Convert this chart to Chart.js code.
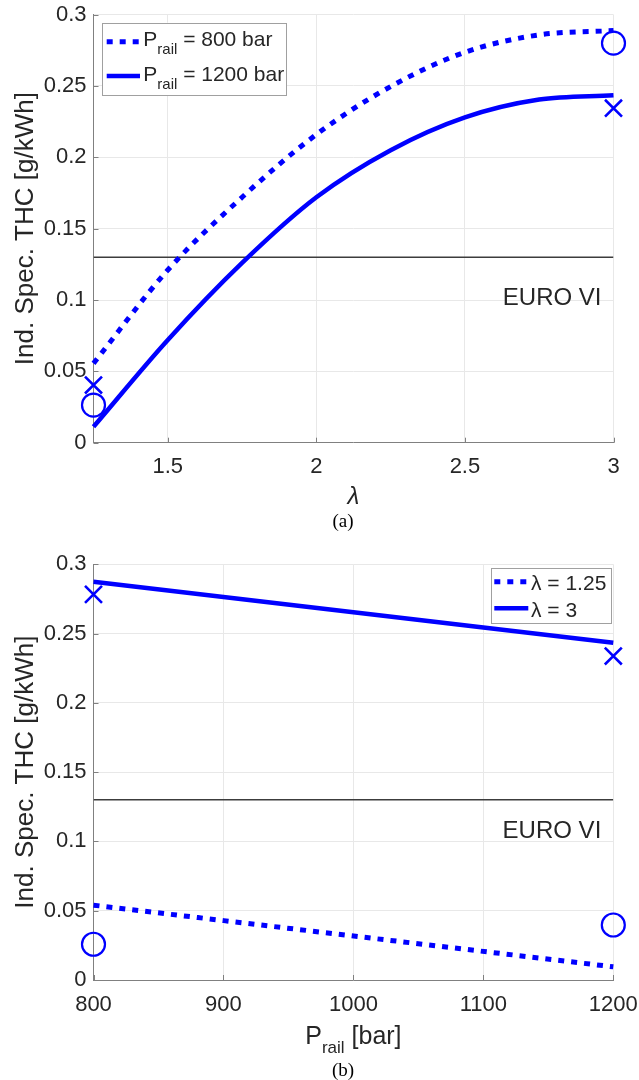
<!DOCTYPE html>
<html><head><meta charset="utf-8">
<script src="https://cdn.jsdelivr.net/npm/chart.js@4.4.1/dist/chart.umd.min.js"></script>
<style>
html,body{margin:0;padding:0;background:#fff;}
#wrap{position:relative;width:639px;height:1080px;overflow:hidden;background:#fff;}
.cv{position:absolute;left:0;width:639px;}
.cap{position:absolute;font-family:"Liberation Serif","Times New Roman",serif;font-size:19px;line-height:22px;color:#000;transform:translateX(-50%);white-space:nowrap;}
</style></head><body>
<div id="wrap">
  <div class="cv" style="top:0;height:530px"><canvas id="c1"></canvas></div>
  <div class="cv" style="top:530px;height:550px"><canvas id="c2"></canvas></div>
  <div class="cap" style="left:343px;top:510px">(a)</div>
  <div class="cap" style="left:343px;top:1059px">(b)</div>
</div>
<script>
// ---------- data ----------
// (a) THC vs lambda
const lambdaVals = [1.25, 1.5, 1.75, 2, 2.25, 2.5, 2.75, 3];
const thc800     = [0.0556, 0.121, 0.172, 0.216, 0.2496, 0.2736, 0.2858, 0.2888];
const thc1200    = [0.0112, 0.072, 0.126, 0.172, 0.205, 0.228, 0.2405, 0.2435];
const expLambda  = [1.25, 3];
const expCircleA = [0.0264, 0.280];
const expCrossA  = [0.0404, 0.2344];
// (b) THC vs rail pressure
const pRailVals  = [800, 1200];
const thcLam125  = [0.054, 0.0095];
const thcLam3    = [0.2874, 0.2434];
const expCircleB = [0.0258, 0.0397];
const expCrossB  = [0.2783, 0.2338];
// limit
const euroVI = 0.13;
const euroLabel = 'EURO VI';
const euroLabelYA = 0.0966;
const euroLabelYB = 0.1028;
// ticks
const yTickVals   = [0, 0.05, 0.1, 0.15, 0.2, 0.25, 0.3];
const yTickLabels = ['0', '0.05', '0.1', '0.15', '0.2', '0.25', '0.3'];
const lamTickVals   = [1.5, 2, 2.5, 3];
const lamTickLabels = ['1.5', '2', '2.5', '3'];
const pTickVals   = [800, 900, 1000, 1100, 1200];
const pTickLabels = ['800', '900', '1000', '1100', '1200'];
// text
const yTitle = 'Ind. Spec. THC [g/kWh]';
const xTitleA = 'λ';
const xTitleBParts = [['P', 0], ['rail', 1], [' [bar]', 0]];
const legendAParts = [
  [['P', 0], ['rail', 1], [' = 800 bar', 0]],
  [['P', 0], ['rail', 1], [' = 1200 bar', 0]]
];
const legendBParts = [
  [['λ = 1.25', 0]],
  [['λ = 3', 0]]
];

// ---------- style ----------
const FONT = '"Liberation Sans", Arial, Helvetica, sans-serif';
const TXT = '#262626';
const AXIS = '#808080';
const GRID = '#e8e8e8';
const BLUE = '#0000ff';
const DOT = [6, 7];

function xy(xs, ys) { return xs.map((x, i) => ({x: x, y: ys[i]})); }

function drawRich(ctx, parts, x, base, size, subSize, subShift, align) {
  let total = 0;
  const w = parts.map(p => { ctx.font = (p[1] ? subSize : size) + 'px ' + FONT; const m = ctx.measureText(p[0]).width; total += m; return m; });
  let cx = align === 'center' ? x - total / 2 : x;
  ctx.textAlign = 'left'; ctx.textBaseline = 'alphabetic'; ctx.fillStyle = TXT;
  parts.forEach((p, i) => {
    ctx.font = (p[1] ? subSize : size) + 'px ' + FONT;
    ctx.fillText(p[0], cx, base + (p[1] ? subShift : 0));
    cx += w[i];
  });
}

const extras = {
  id: 'extras',
  beforeDatasetsDraw(chart, args, o) {
    const ctx = chart.ctx, xs = chart.scales.x, ys = chart.scales.y, ca = chart.chartArea;
    ctx.save();
    ctx.strokeStyle = AXIS; ctx.lineWidth = 1;
    ctx.beginPath();
    xs.ticks.forEach(t => { const p = Math.round(xs.getPixelForValue(t.value)) + 0.5; ctx.moveTo(p, ca.bottom); ctx.lineTo(p, ca.bottom - 5); });
    ys.ticks.forEach(t => { const p = Math.round(ys.getPixelForValue(t.value)) + 0.5; ctx.moveTo(ca.left, p); ctx.lineTo(ca.left + 5, p); });
    ctx.stroke();
    ctx.restore();
  },
  afterDatasetsDraw(chart, args, o) {
    const ctx = chart.ctx, ca = chart.chartArea, ys = chart.scales.y;
    ctx.save();
    // limit label
    ctx.font = '24px ' + FONT; ctx.fillStyle = TXT; ctx.textAlign = 'right'; ctx.textBaseline = 'alphabetic';
    ctx.fillText(euroLabel, ca.right - 12, ys.getPixelForValue(o.labelY));
    // legend
    const L = o.legend;
    ctx.fillStyle = '#fff'; ctx.fillRect(L.x, L.y, L.w, L.h);
    ctx.strokeStyle = '#a0a0a0'; ctx.lineWidth = 1; ctx.strokeRect(Math.round(L.x) + 0.5, Math.round(L.y) + 0.5, Math.round(L.w), Math.round(L.h));
    L.rows.forEach((parts, i) => {
      const ds = chart.data.datasets[L.ds[i]];
      const cy = L.y + L.firstY + i * L.rowH;
      ctx.save();
      ctx.strokeStyle = ds.borderColor; ctx.lineWidth = ds.borderWidth; ctx.setLineDash(ds.borderDash || []); ctx.lineCap = 'butt';
      ctx.beginPath(); ctx.moveTo(L.x + L.sx0, cy); ctx.lineTo(L.x + L.sx1, cy); ctx.stroke();
      ctx.restore();
      drawRich(ctx, parts, L.x + L.tx, cy + L.base, 21, 15, 8, 'left');
    });
    // custom x title with subscript
    if (o.xTitleParts) {
      drawRich(ctx, o.xTitleParts, (ca.left + ca.right) / 2, ca.bottom + o.xTitleDy, 25, 17, 9, 'center');
    }
    ctx.restore();
  }
};

function yScale() {
  return {
    type: 'linear', min: 0, max: 0.3,
    afterBuildTicks: s => { s.ticks = yTickVals.map(v => ({value: v})); },
    afterFit: s => { s.width = 93.5; s.paddingTop = 0; s.paddingBottom = 0; },
    ticks: { callback: (v, i) => yTickLabels[i], font: {size: 22, family: FONT}, color: TXT, padding: 7 },
    grid: { color: GRID, lineWidth: 1, drawTicks: false },
    border: { display: true, color: AXIS, width: 1 },
    title: { display: true, text: yTitle, font: {size: 26, family: FONT}, color: TXT, padding: {top: 10.5, bottom: 0} }
  };
}

function lineDs(data, dotted) {
  return {
    data: data, borderColor: BLUE, backgroundColor: BLUE, borderWidth: dotted ? 5 : 4.5,
    borderDash: dotted ? DOT : [], borderCapStyle: 'butt', pointRadius: 0,
    cubicInterpolationMode: 'monotone', fill: false, clip: false
  };
}
function markDs(data, style, r) {
  return {
    data: data, showLine: false, pointStyle: style, pointRadius: r, pointBorderWidth: style === 'circle' ? 2.2 : 2.6,
    pointBorderColor: BLUE, pointBackgroundColor: 'rgba(0,0,0,0)', borderColor: BLUE, clip: false
  };
}
function limitDs(x0, x1) {
  return { data: [{x: x0, y: euroVI}, {x: x1, y: euroVI}], borderColor: '#3c3c3c', borderWidth: 1.5, pointRadius: 0, fill: false };
}

// ---------- chart (a) ----------
new Chart(document.getElementById('c1'), {
  type: 'line',
  data: { datasets: [
    lineDs(xy(lambdaVals, thc800), true),
    lineDs(xy(lambdaVals, thc1200), false),
    limitDs(lambdaVals[0], lambdaVals[lambdaVals.length - 1]),
    markDs(xy(expLambda, expCircleA), 'circle', 11.5),
    markDs(xy(expLambda, expCrossA), 'crossRot', 12)
  ]},
  options: {
    responsive: true, maintainAspectRatio: false, animation: false, events: [],
    layout: { padding: {top: 14, right: 25.5, bottom: 0, left: 0} },
    scales: {
      x: {
        type: 'linear', min: 1.25, max: 3,
        afterBuildTicks: s => { s.ticks = lamTickVals.map(v => ({value: v})); },
        afterFit: s => { s.height = 87.3; s.paddingLeft = 0; s.paddingRight = 0; },
        ticks: { callback: (v, i) => lamTickLabels[i], font: {size: 22, family: FONT}, color: TXT, padding: 11, maxRotation: 0 },
        grid: { color: GRID, lineWidth: 1, drawTicks: false },
        border: { display: true, color: AXIS, width: 1 },
        title: { display: true, text: xTitleA, font: {size: 24, family: FONT, style: 'italic'}, color: TXT, padding: {top: 0, bottom: 18} }
      },
      y: yScale()
    },
    plugins: {
      legend: { display: false }, tooltip: { enabled: false },
      extras: { labelY: euroLabelYA, legend: { x: 102.3, y: 22.7, w: 184.4, h: 72.3, firstY: 19, rowH: 34.3, sx0: 4.4, sx1: 37.7, tx: 41, base: 4.5, ds: [0, 1], rows: legendAParts } }
    }
  },
  plugins: [extras]
});

// ---------- chart (b) ----------
new Chart(document.getElementById('c2'), {
  type: 'line',
  data: { datasets: [
    lineDs(xy(pRailVals, thcLam125), true),
    lineDs(xy(pRailVals, thcLam3), false),
    limitDs(pRailVals[0], pRailVals[pRailVals.length - 1]),
    markDs(xy(pRailVals, expCircleB), 'circle', 11.5),
    markDs(xy(pRailVals, expCrossB), 'crossRot', 12)
  ]},
  options: {
    responsive: true, maintainAspectRatio: false, animation: false, events: [],
    layout: { padding: {top: 34.3, right: 25.7, bottom: 0, left: 0} },
    scales: {
      x: {
        type: 'linear', min: 800, max: 1200,
        afterBuildTicks: s => { s.ticks = pTickVals.map(v => ({value: v})); },
        afterFit: s => { s.height = 100; s.paddingLeft = 0; s.paddingRight = 0; },
        ticks: { callback: (v, i) => pTickLabels[i], font: {size: 22, family: FONT}, color: TXT, padding: 12, maxRotation: 0 },
        grid: { color: GRID, lineWidth: 1, drawTicks: false },
        border: { display: true, color: AXIS, width: 1 },
        title: { display: false }
      },
      y: yScale()
    },
    plugins: {
      legend: { display: false }, tooltip: { enabled: false },
      extras: {
        labelY: euroLabelYB,
        legend: { x: 490.7, y: 37.7, w: 120, h: 55, firstY: 14, rowH: 26.6, sx0: 3.6, sx1: 37.6, tx: 40.3, base: 8.5, ds: [0, 1], rows: legendBParts },
        xTitleParts: xTitleBParts, xTitleDy: 64
      }
    }
  },
  plugins: [extras]
});
</script>
</body></html>
